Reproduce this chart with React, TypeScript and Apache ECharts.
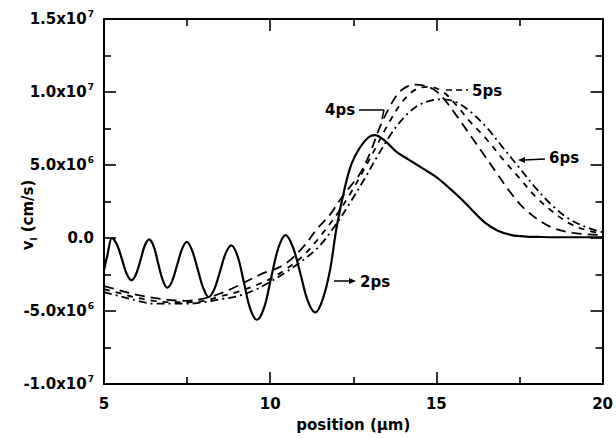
import React, { useEffect, useRef } from "react";
import * as echarts from "echarts";

// ---- data (velocity in units of 1e6 cm/s, position in µm) ----
const x2ps = [5.0, 5.1, 5.24, 5.39, 5.54, 5.68, 5.83, 5.96, 6.1, 6.23, 6.36, 6.5, 6.63, 6.77, 6.9, 7.05, 7.2, 7.35, 7.49, 7.65, 7.82, 7.99, 8.15, 8.32, 8.49, 8.66, 8.83, 9.02, 9.21, 9.4, 9.6, 9.82, 10.03, 10.25, 10.46, 10.68, 10.91, 11.13, 11.36, 11.58, 11.8, 12.0, 12.25, 12.45, 12.7, 12.96, 13.15, 13.43, 13.8, 14.18, 14.6, 14.98, 15.4, 15.78, 16.1, 16.46, 16.85, 17.27, 17.7, 18.16, 19.0, 20.0];
const v2ps = [-2.2, -1.2, 0, -0.45, -1.45, -2.45, -2.9, -2.5, -1.5, -0.5, -0.1, -0.6, -1.75, -2.9, -3.4, -2.95, -1.85, -0.75, -0.27, -0.85, -2.15, -3.45, -4.04, -3.5, -2.3, -1.05, -0.5, -1.25, -3.05, -4.85, -5.6, -4.75, -2.7, -0.65, 0.2, -0.6, -2.45, -4.3, -5.1, -4.2, -2.2, 0.75, 3.5, 5.1, 6.2, 6.9, 7.05, 6.7, 5.9, 5.35, 4.75, 4.2, 3.4, 2.6, 1.85, 1.05, 0.5, 0.2, 0.1, 0.07, 0.05, 0.05];

const x4ps = [5, 5.5, 6, 6.5, 7, 7.5, 8, 8.5, 9, 9.7, 10.4, 11.0, 11.4, 11.8, 12.1, 12.4, 12.7, 13.0, 13.3, 13.6, 13.85, 14.1, 14.35, 14.6, 14.9, 15.2, 15.6, 16.0, 16.4, 16.8, 17.2, 17.7, 18.4, 19.1, 20];
const v4ps = [-3.3, -3.6, -3.9, -4.1, -4.25, -4.3, -4.15, -3.8, -3.3, -2.5, -1.85, -0.6, 0.6, 1.6, 2.6, 3.5, 4.4, 5.8, 7.6, 9.0, 9.9, 10.35, 10.5, 10.45, 10.2, 9.6, 8.4, 7.1, 5.8, 4.5, 3.2, 1.9, 0.8, 0.35, 0.2];

const x5ps = [5, 5.5, 6, 6.5, 7, 7.5, 8, 8.5, 9, 9.5, 10, 10.5, 11, 11.5, 12, 12.4, 12.8, 13.2, 13.6, 14.0, 14.4, 14.8, 15.2, 15.6, 16.0, 16.5, 17.0, 17.5, 18.0, 18.5, 19.0, 19.5, 20];
const v5ps = [-3.5, -3.8, -4.1, -4.3, -4.4, -4.4, -4.3, -4.0, -3.7, -3.3, -2.8, -2.1, -1.2, 0.1, 1.6, 3.0, 4.6, 6.3, 8.0, 9.4, 10.2, 10.35, 10.0, 9.1, 8.0, 6.8, 5.4, 4.1, 2.8, 1.8, 1.0, 0.55, 0.3];

const x6ps = [5, 5.5, 6, 6.5, 7, 7.5, 8, 8.5, 9, 9.5, 10, 10.5, 11, 11.5, 12, 12.4, 12.8, 13.2, 13.6, 14.0, 14.4, 14.8, 15.2, 15.6, 16.0, 16.5, 17.0, 17.5, 18.0, 18.5, 19.0, 19.5, 20];
const v6ps = [-3.7, -4.0, -4.3, -4.5, -4.5, -4.5, -4.4, -4.2, -4.0, -3.6, -3.0, -2.3, -1.5, -0.5, 1.0, 2.4, 3.9, 5.5, 7.0, 8.2, 9.0, 9.4, 9.5, 9.3, 8.7, 7.6, 6.2, 4.8, 3.4, 2.2, 1.3, 0.75, 0.4];

const yTickValues = [-10, -5, 0, 5, 10, 15];
const yTickBase = ["-1.0x10", "-5.0x10", "0.0", "5.0x10", "1.0x10", "1.5x10"];
const yTickExp = ["7", "6", "", "6", "7", "7"];
const xTickLabels = ["5", "10", "15", "20"];

const FONT = "'DejaVu Sans', 'Liberation Sans', Arial, sans-serif";

function pairs(xs: number[], vs: number[]) {
  return xs.map((x, i) => [x, vs[i]]);
}

export default function App() {
  const ref = useRef<HTMLDivElement>(null);
  useEffect(() => {
    if (!ref.current) return;
    const chart = echarts.init(ref.current, null, { renderer: "svg" });
    const axisLine = { show: true, onZero: false, lineStyle: { color: "#000", width: 2 } };
    const tick = { show: true, inside: true, length: 12, lineStyle: { color: "#000", width: 1.6 } };
    const minor = { show: true, splitNumber: 2, length: 7, lineStyle: { color: "#000", width: 1.6 } };
    const xBase = { type: "value", min: 5, max: 20, interval: 5, splitLine: { show: false }, axisLine, axisTick: tick, minorTick: minor };
    const yBase = { type: "value", min: -10, max: 15, interval: 5, splitLine: { show: false }, axisLine, axisTick: tick, minorTick: minor };
    const lineBase = { type: "line", showSymbol: false, symbol: "none", smooth: 0.35, xAxisIndex: 0, yAxisIndex: 0 };
    const labelFont = { fontFamily: FONT, fontWeight: "bold", fontSize: 15, fill: "#000", textVerticalAlign: "middle" };
    chart.setOption({
      animation: false,
      backgroundColor: "#fff",
      grid: { left: 104, right: 8, top: 19, bottom: 54, containLabel: false },
      xAxis: [
        {
          ...xBase,
          position: "bottom",
          axisLabel: {
            margin: 12,
            color: "#000",
            fontFamily: FONT,
            fontWeight: "bold",
            fontSize: 15,
            formatter: (v: number) => xTickLabels[Math.round((v - 5) / 5)] ?? "",
          },
          name: "position (\u03bcm)",
          nameLocation: "middle",
          nameGap: 33,
          nameTextStyle: { color: "#000", fontFamily: FONT, fontWeight: "bold", fontSize: 15 },
        },
        { ...xBase, position: "top", axisLabel: { show: false } },
      ],
      yAxis: [
        {
          ...yBase,
          position: "left",
          axisLabel: {
            margin: 10,
            color: "#000",
            formatter: (v: number) => {
              const i = yTickValues.indexOf(Math.round(v));
              if (i < 0) return "";
              return yTickExp[i] ? `{b|${yTickBase[i]}}{s|${yTickExp[i]}}` : `{b|${yTickBase[i]}}`;
            },
            rich: {
              b: { fontFamily: FONT, fontWeight: "bold", fontSize: 15, color: "#000", lineHeight: 20 },
              s: { fontFamily: FONT, fontWeight: "bold", fontSize: 9, color: "#000", verticalAlign: "top", lineHeight: 12, padding: [0, 0, 0, 1] },
            },
          },
        },
        { ...yBase, position: "right", axisLabel: { show: false } },
      ],
      graphic: [
        {
          type: "text",
          x: 28,
          y: 215,
          rotation: Math.PI / 2,
          style: {
            text: "{v|v}{sub|l}{v| (cm/s)}",
            textAlign: "center",
            textVerticalAlign: "middle",
            rich: {
              v: { fontFamily: FONT, fontWeight: "bold", fontSize: 15, fill: "#000", lineHeight: 20 },
              sub: { fontFamily: FONT, fontWeight: "bold", fontSize: 9, fill: "#000", verticalAlign: "bottom", lineHeight: 20 },
            },
          },
        },
        // 2ps
        { type: "line", shape: { x1: 334, y1: 281, x2: 352, y2: 281 }, style: { stroke: "#000", lineWidth: 1.5 } },
        { type: "polygon", shape: { points: [[356, 281], [349, 278], [349, 284]] }, style: { fill: "#000" } },
        { type: "text", x: 360, y: 282, style: { text: "2ps", ...labelFont } },
        // 4ps
        { type: "text", x: 325, y: 110, style: { text: "4ps", ...labelFont } },
        { type: "line", shape: { x1: 359, y1: 110, x2: 384, y2: 110 }, style: { stroke: "#000", lineWidth: 1.5 } },
        { type: "line", shape: { x1: 384, y1: 110, x2: 382, y2: 119 }, style: { stroke: "#000", lineWidth: 1.5 } },
        // 5ps
        { type: "line", shape: { x1: 446, y1: 90, x2: 468, y2: 90 }, style: { stroke: "#000", lineWidth: 1.5, lineDash: [6, 4] } },
        { type: "text", x: 472, y: 91, style: { text: "5ps", ...labelFont } },
        // 6ps
        { type: "polygon", shape: { points: [[518, 160], [525, 157], [525, 163]] }, style: { fill: "#000" } },
        { type: "line", shape: { x1: 524, y1: 160, x2: 545, y2: 159 }, style: { stroke: "#000", lineWidth: 1.5 } },
        { type: "text", x: 549, y: 158, style: { text: "6ps", ...labelFont } },
      ],
      series: [
        { ...lineBase, name: "2ps", data: pairs(x2ps, v2ps), lineStyle: { color: "#000", width: 2.2, type: "solid" } },
        { ...lineBase, name: "4ps", data: pairs(x4ps, v4ps), lineStyle: { color: "#000", width: 1.8, type: [10, 6] } },
        { ...lineBase, name: "5ps", data: pairs(x5ps, v5ps), lineStyle: { color: "#000", width: 1.8, type: [6, 6] } },
        { ...lineBase, name: "6ps", data: pairs(x6ps, v6ps), lineStyle: { color: "#000", width: 1.8, type: [8, 4, 2, 4] } },
      ],
    });
    return () => chart.dispose();
  }, []);
  return <div ref={ref} style={{ width: 616, height: 438, position: "absolute", left: 0, top: 0 }} />;
}
